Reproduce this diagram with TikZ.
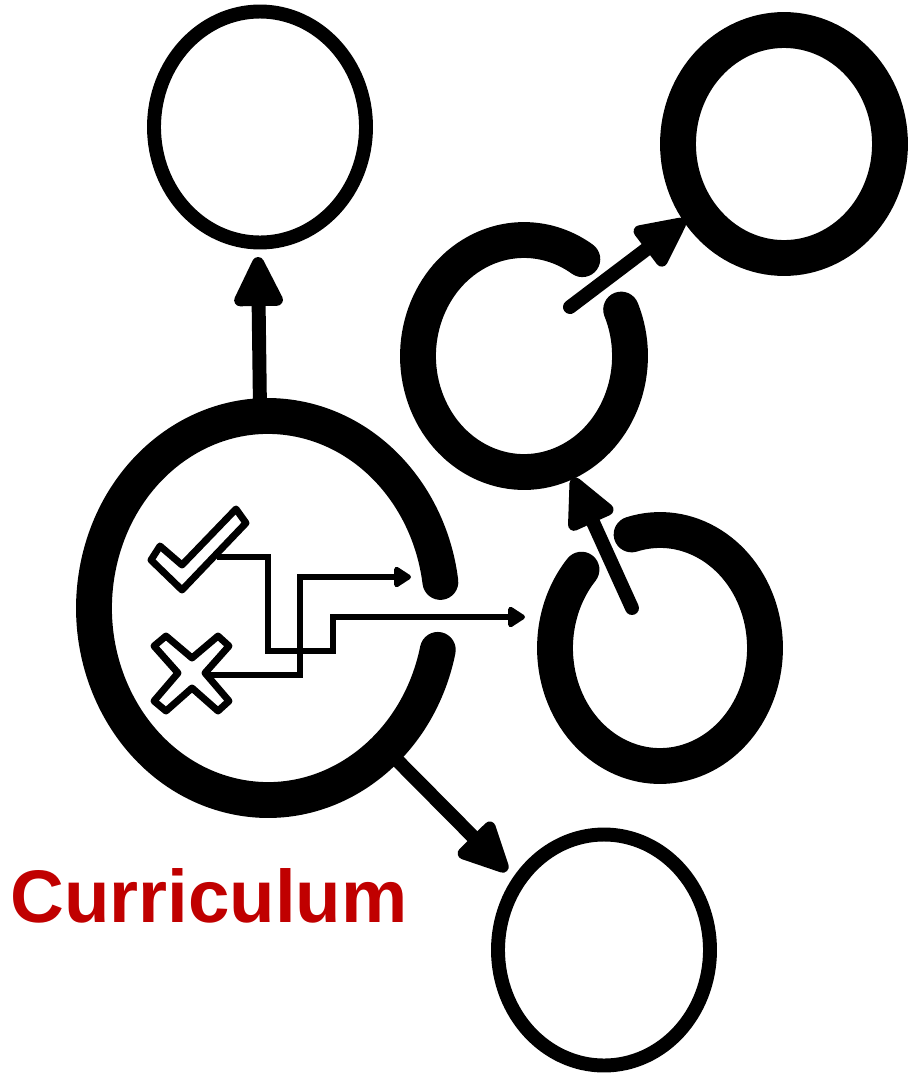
\documentclass[tikz,border=0pt]{standalone}
\usepackage{fontspec}
\setmainfont{Liberation Sans}
\usetikzlibrary{arrows.meta,shapes.geometric}
\definecolor{curred}{HTML}{C00000}
\tikzset{
  thinring/.style={draw,ellipse,inner sep=0pt,line width=14*0.567pt,minimum width=212*0.02cm,minimum height=231*0.02cm},
  thickring/.style={draw,ellipse,inner sep=0pt,line width=36*0.567pt,minimum width=212*0.02cm,minimum height=228*0.02cm},
  gapring/.style={line width=36*0.567pt,line cap=round},
  bigarrow/.style={line width=14*0.567pt,line cap=round,-{Triangle[length=1.15cm,width=1.05cm,line width=0.24cm,round]}},
  smallarrow/.style={line width=6.5*0.567pt,-{Triangle[length=0.38cm,width=0.46cm,line width=0.22cm,round]}},
  markline/.style={line width=7*0.567pt,line join=round}
}
\begin{document}
\begin{tikzpicture}[x=0.02cm,y=-0.02cm]
\useasboundingbox (0,0) rectangle (908,1076);
% rings
\node[thinring] (top) at (260,127) {};
\node[thinring] (bottom) at (604,950) {};
\node[thickring] (right) at (784,144) {};
\coordinate (main) at (268,608);
\coordinate (upper) at (524,356);
\coordinate (lower) at (660,648);
\draw[gapring] ([shift={(12.6:174 and 192)}]main) arc[start angle=12.6,end angle=352.2,x radius=174,y radius=192];
\draw[gapring] ([shift={(-23.6:106 and 116)}]upper) arc[start angle=-23.6,end angle=303.4,x radius=106,y radius=116];
\draw[gapring] ([shift={(254.3:105 and 118)}]lower) arc[start angle=254.3,end angle=581.6,x radius=105,y radius=118];
% arrows
\coordinate (maintop) at (260,410);
\coordinate (toptip) at (258,257);
\coordinate (mainlow) at (390,753);
\coordinate (bottomtip) at (507,871);
\coordinate (uppertail) at (570,307);
\coordinate (righttip) at (685,220);
\coordinate (lowertail) at (632,608);
\coordinate (uppertip) at (573,478);
\draw[bigarrow] (maintop) -- (toptip);
\draw[bigarrow] (mainlow) -- (bottomtip);
\draw[bigarrow] (uppertail) -- (righttip);
\draw[bigarrow] (lowertail) -- (uppertip);
% check and cross
\draw[markline] (236,509) -- (246,523) -- (182,590) -- (151,560) -- (160,546) -- (182,565) -- cycle;
\draw[markline] (166,636) -- (192,658) -- (218,636) -- (229,646) -- (205,673) -- (229,701) -- (218,711)
  -- (192,688) -- (166,711) -- (154,701) -- (178,673) -- (154,646) -- cycle;
\coordinate (checkout) at (217,557);
\coordinate (crossout) at (210,675);
\coordinate (innertip) at (411,577);
\coordinate (outertip) at (525,617);
\draw[smallarrow] (checkout) -| (268,651) -| (333,617) -- (outertip);
\draw[smallarrow] (crossout) -| (300,577) -- (innertip);
\node[anchor=base west,inner sep=0pt,text=curred,font=\fontsize{42.4}{50}\selectfont\bfseries] (label) at (10,922) {Curriculum};
\end{tikzpicture}
\end{document}
